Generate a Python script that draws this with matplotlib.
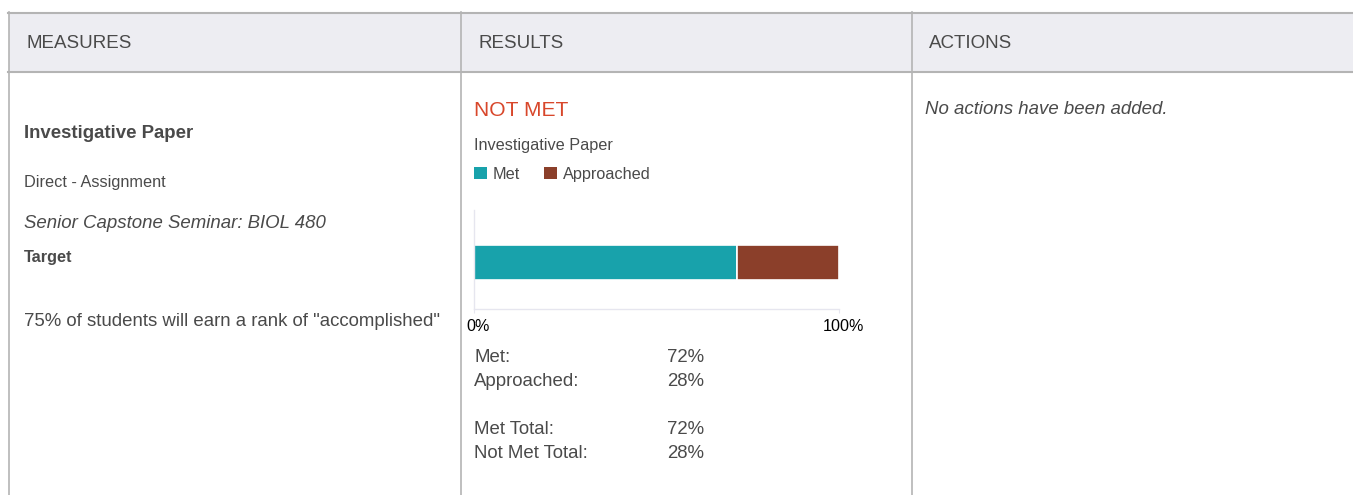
import matplotlib
matplotlib.use('Agg')
import matplotlib.pyplot as plt
from matplotlib.patches import Rectangle
from matplotlib.transforms import ScaledTranslation

# --- data ---
CATEGORIES = ['Met', 'Approached']
PERCENTS = [72, 28]
SUMMARY_LABELS = ['Met:', 'Approached:', 'Met Total:', 'Not Met Total:']
SUMMARY_VALUES = ['72%', '28%', '72%', '28%']
X_TICKS = [0, 100]
X_TICK_LABELS = ['0%', '100%']

COLORS = ['#18a2ab', '#8b3f2a']
BORDER = '#b4b4b4'
HEADER_BG = '#ededf2'
TEXT = '#4a4a4a'
W, H = 1353, 495
BIG, SMALL = 13.4, 11.7
VA = 'center_baseline'

plt.rcParams['font.family'] = ['Liberation Sans', 'DejaVu Sans']

fig = plt.figure(figsize=(W / 100, H / 100), dpi=100)

# page layer in pixel coordinates
bg = fig.add_axes([0, 0, 1, 1])
bg.set_xlim(0, W)
bg.set_ylim(H, 0)
bg.axis('off')

bg.add_patch(Rectangle((9, 13), W - 9, 58, facecolor=HEADER_BG, edgecolor='none'))
bg.plot([8, W], [12.5, 12.5], color=BORDER, lw=1.5)
bg.plot([8, W], [71.5, 71.5], color=BORDER, lw=1.5)
for xv in [8.5, 460.5, 911.5]:
    bg.plot([xv, xv], [12, H], color=BORDER, lw=1.2)

for x, label in [(26, 'MEASURES'), (478, 'RESULTS'), (929, 'ACTIONS')]:
    bg.text(x, 42, label, fontsize=13.5, color=TEXT, va=VA)

# measures column
bg.text(24, 132, 'Investigative Paper', fontsize=BIG, weight='bold', color=TEXT, va=VA)
bg.text(24, 181, 'Direct - Assignment', fontsize=SMALL, color=TEXT, va=VA)
bg.text(24, 221, 'Senior Capstone Seminar: BIOL 480', fontsize=BIG, style='italic', color=TEXT, va=VA)
bg.text(24, 256, 'Target', fontsize=SMALL, weight='bold', color=TEXT, va=VA)
bg.text(24, 320, '75% of students will earn a rank of "accomplished"', fontsize=BIG, color=TEXT, va=VA)

# results column
bg.text(474, 108, 'NOT MET', fontsize=15.1, color='#d8472b', va=VA)
bg.text(474, 144, 'Investigative Paper', fontsize=SMALL, color=TEXT, va=VA)
lx = 474
for cat, col, off in zip(CATEGORIES, COLORS, [0, 70]):
    bg.add_patch(Rectangle((lx + off, 167), 13, 12, facecolor=col, edgecolor='none'))
    bg.text(lx + off + 19, 173, cat, fontsize=SMALL, color=TEXT, va=VA)

for i, (lab, val) in enumerate(zip(SUMMARY_LABELS, SUMMARY_VALUES)):
    y = [355, 379, 427, 451][i]
    bg.text(474, y, lab, fontsize=BIG, color=TEXT, va=VA)
    bg.text(667, y, val, fontsize=BIG, color=TEXT, va=VA)

# actions column
bg.text(925, 108, 'No actions have been added.', fontsize=BIG, style='italic', color=TEXT, va=VA)

# stacked bar chart
ax = fig.add_axes([474 / W, 1 - 309 / H, 365 / W, 99 / H])
left = 0
for cat, pct, col in zip(CATEGORIES, PERCENTS, COLORS):
    ax.barh(0, pct, left=left, height=1.0, color=col, edgecolor='white', linewidth=1.2)
    left += pct
ax.set_xlim(0, 100)
ax.set_ylim(-1.33, 1.5)
ax.set_yticks([])
ax.set_xticks(X_TICKS)
ax.set_xticklabels(X_TICK_LABELS, fontsize=11.6, color='black')
ax.tick_params(axis='x', length=3, color='#e6e6ef', pad=4)
shift = ScaledTranslation(4 / 100, 0, fig.dpi_scale_trans)
for lbl in ax.get_xticklabels():
    lbl.set_transform(lbl.get_transform() + shift)
for s in ['top', 'right']:
    ax.spines[s].set_visible(False)
for s in ['left', 'bottom']:
    ax.spines[s].set_color('#e6e6ef')
    ax.spines[s].set_linewidth(1)
ax.patch.set_alpha(0)

fig.savefig('out.png', dpi=100, facecolor='white')
